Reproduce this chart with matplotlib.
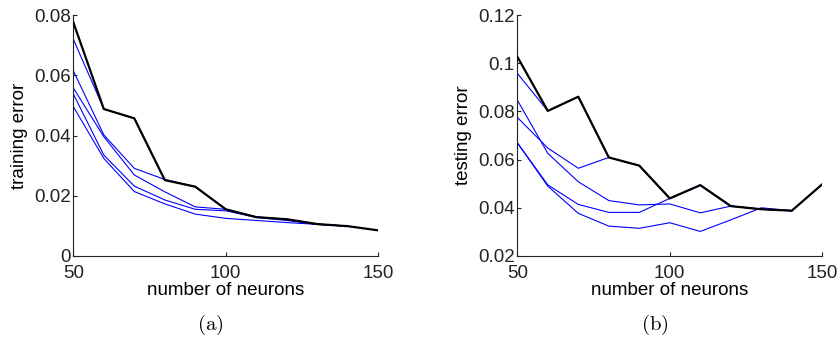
import matplotlib
matplotlib.use("Agg")
import matplotlib.pyplot as plt

plt.rcParams['font.family'] = ['Liberation Sans', 'DejaVu Sans']
plt.rcParams['mathtext.fontset'] = 'cm'

neurons = [50, 60, 70, 80, 90, 100, 110, 120, 130, 140, 150]
neurons_blue = neurons[:10]

# (a) training error
train_black = [0.0776, 0.0488, 0.0457, 0.0252, 0.0230, 0.0155, 0.0129, 0.0122, 0.0106, 0.0099, 0.0085]
train_blue = [
    [0.0720, 0.0488, 0.0457, 0.0252, 0.0230, 0.0155, 0.0129, 0.0122, 0.0106, 0.0099],
    [0.0615, 0.0402, 0.0291, 0.0254, 0.0230, 0.0155, 0.0129, 0.0122, 0.0106, 0.0099],
    [0.0558, 0.0396, 0.0269, 0.0213, 0.0163, 0.0155, 0.0130, 0.0121, 0.0105, 0.0099],
    [0.0538, 0.0335, 0.0232, 0.0186, 0.0155, 0.0150, 0.0128, 0.0118, 0.0105, 0.0099],
    [0.0496, 0.0324, 0.0214, 0.0173, 0.0139, 0.0125, 0.0118, 0.0111, 0.0105, 0.0099],
]

# (b) testing error
test_black = [0.1027, 0.0802, 0.0861, 0.0609, 0.0575, 0.0439, 0.0494, 0.0407, 0.0394, 0.0388, 0.0498]
test_blue = [
    [0.0958, 0.0802, 0.0861, 0.0609, 0.0575, 0.0439, 0.0494, 0.0407, 0.0394, 0.0388],
    [0.0775, 0.0648, 0.0564, 0.0609, 0.0575, 0.0439, 0.0494, 0.0407, 0.0394, 0.0388],
    [0.0847, 0.0626, 0.0508, 0.0430, 0.0412, 0.0416, 0.0379, 0.0407, 0.0394, 0.0388],
    [0.0670, 0.0495, 0.0414, 0.0381, 0.0381, 0.0439, 0.0494, 0.0407, 0.0394, 0.0388],
    [0.0670, 0.0490, 0.0377, 0.0324, 0.0315, 0.0338, 0.0302, 0.0350, 0.0400, 0.0388],
]

train_yticks = [0, 0.02, 0.04, 0.06, 0.08]
train_yticklabels = ['0', '0.02', '0.04', '0.06', '0.08']
test_yticks = [0.02, 0.04, 0.06, 0.08, 0.1, 0.12]
test_yticklabels = ['0.02', '0.04', '0.06', '0.08', '0.1', '0.12']
xticks = [50, 100, 150]

W, H = 840, 341
fig = plt.figure(figsize=(W / 100, H / 100), dpi=100)

def make_ax(x0, x1, y0, y1):
    return fig.add_axes([x0 / W, 1 - y1 / H, (x1 - x0) / W, (y1 - y0) / H])

ax1 = make_ax(73.3, 378.3, 15, 256)
ax2 = make_ax(517.3, 822.3, 15, 256)

FS = 13.5

def style(ax, black, blues, yticks, yticklabels, ylim, ylabel):
    for b in blues:
        ax.plot(neurons_blue, b, color=(0, 0, 1), lw=0.8, zorder=2)
    ax.plot(neurons, black, color='black', lw=1.6, zorder=3)
    ax.set_xlim(50, 150)
    ax.set_ylim(*ylim)
    ax.set_xticks(xticks)
    ax.set_xticklabels([str(t) for t in xticks])
    ax.set_yticks(yticks)
    ax.set_yticklabels(yticklabels)
    for s in ['top', 'right']:
        ax.spines[s].set_visible(False)
    for s in ['left', 'bottom']:
        ax.spines[s].set_linewidth(0.8)
        ax.spines[s].set_color('#222222')
    ax.tick_params(direction='in', length=3, width=0.8, labelsize=FS, pad=2, colors='#222222')
    ax.tick_params(axis='x', pad=6.5)
    ax.set_xlabel('number of neurons', fontsize=FS, labelpad=0)
    ax.set_ylabel(ylabel, fontsize=FS, labelpad=4)

style(ax1, train_black, train_blue, train_yticks, train_yticklabels, (0, 0.08), 'training error')
style(ax2, test_black, test_blue, test_yticks, test_yticklabels, (0.02, 0.12), 'testing error')

fig.text(210 / W, 1 - 325 / H, r'$\mathrm{(a)}$', ha='center', va='center', fontsize=15)
fig.text(655 / W, 1 - 325 / H, r'$\mathrm{(b)}$', ha='center', va='center', fontsize=15)

fig.savefig('out.png', dpi=100)
